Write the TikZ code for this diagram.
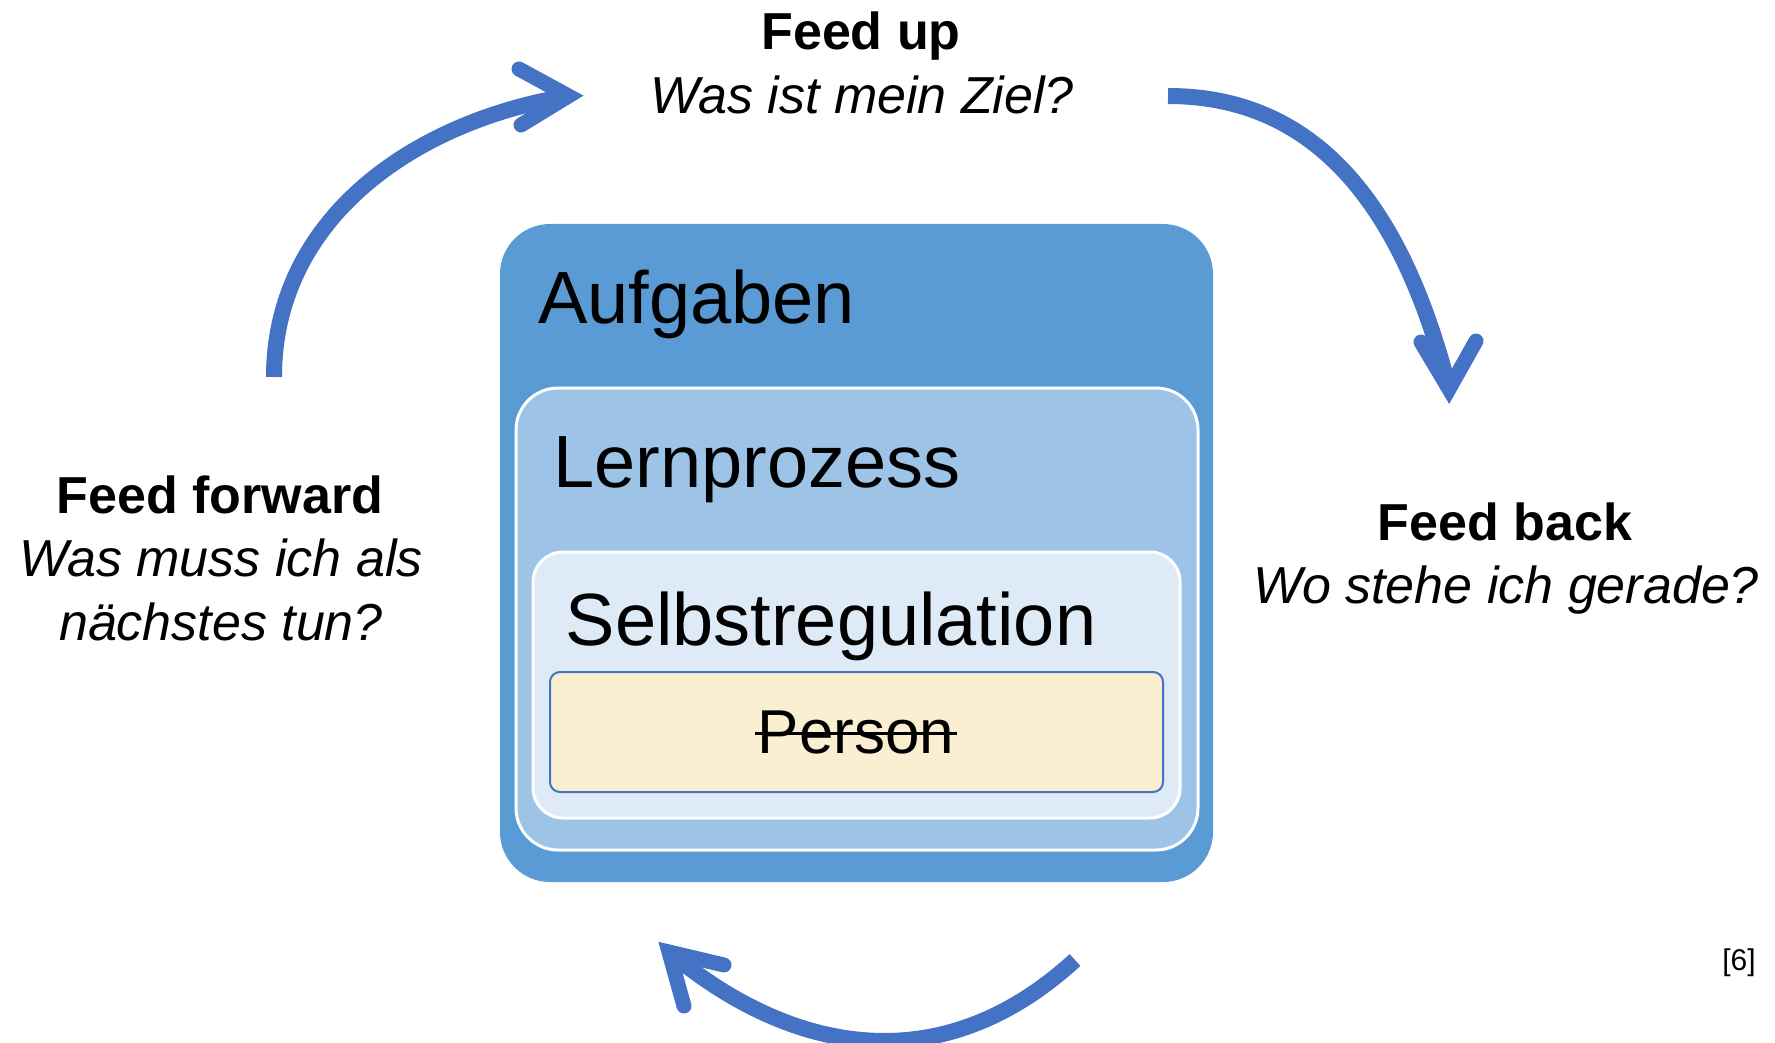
\documentclass[tikz,border=0pt]{standalone}
\usepackage{fontspec}
\setmainfont{Liberation Sans}
\usetikzlibrary{calc}
\definecolor{arrowblue}{HTML}{4472C4}
\definecolor{outerblue}{HTML}{5B9BD5}
\definecolor{midblue}{HTML}{9DC3E6}
\definecolor{lightblue}{HTML}{DEEBF7}
\definecolor{cream}{HTML}{FBEFD2}
\begin{document}
\begin{tikzpicture}[x=1pt,y=-1pt,
  basebox/.style={rectangle, inner sep=0pt, outer sep=0pt},
  outerbox/.style={basebox, fill=outerblue, rounded corners=50pt},
  lernbox/.style={basebox, fill=midblue, draw=white, line width=3pt, rounded corners=42pt},
  selbstbox/.style={basebox, fill=lightblue, draw=white, line width=3pt, rounded corners=30pt},
  personbox/.style={basebox, fill=cream, draw=arrowblue, line width=2pt, rounded corners=10pt},
  boxtitle/.style={inner sep=0pt, anchor=base west, font=\fontsize{74}{88}\selectfont},
  headtxt/.style={inner sep=0pt, anchor=base, font=\fontsize{52}{62}\selectfont\bfseries},
  subtxt/.style={inner sep=0pt, anchor=base, font=\fontsize{52}{62}\selectfont\itshape},
  shaft/.style={draw=arrowblue, line width=16pt},
  chevron/.style={draw=arrowblue, line width=15pt, line cap=round, line join=miter},
]
\useasboundingbox (0,0) rectangle (1775,1043);

% nested boxes
\node[outerbox, minimum width=713pt, minimum height=658pt] (aufgaben) at (856.5,553) {};
\node[lernbox, minimum width=682pt, minimum height=462pt] (lern) at (857,619) {};
\node[selbstbox, minimum width=647pt, minimum height=266pt] (selbst) at (856.5,685) {};
\node[personbox, minimum width=613pt, minimum height=120pt] (person) at (856.5,732) {};

\node[boxtitle] (taufg) at (538,323) {Aufgaben};
\node[boxtitle] (tlern) at (553,487) {Lernprozess};
\node[boxtitle] (tselbst) at (565.5,645) {Selbstregulation};
\node[inner sep=0pt, anchor=base, font=\fontsize{62}{74}\selectfont] (tperson) at (856,753) {Person};
\draw[line width=3.5pt] ($(tperson.base west)+(-3,-19.5)$) -- ($(tperson.base east)+(3,-19.5)$);

% labels
\node[headtxt] (fu1) at (861,50) {Feed up};
\node[subtxt] (fu2) at (862,114) {Was ist mein Ziel?};
\node[headtxt] (ff1) at (220,513) {Feed forward};
\node[subtxt] (ff2) at (221,576) {Was muss ich als};
\node[subtxt] (ff3) at (221,640) {nächstes tun?};
\node[headtxt] (fb1) at (1505,540) {Feed back};
\node[subtxt] (fb2) at (1506,603) {Wo stehe ich gerade?};
\node[inner sep=0pt, anchor=base, font=\fontsize{30}{36}\selectfont] (ref) at (1739,970) {[6]};

% arrow 1 (feed forward -> feed up)
\coordinate (a1s) at (274,377);
\coordinate (a1v) at (568.5,96);
\coordinate (a1l) at (519,69);
\coordinate (a1r) at (521,125);
\draw[shaft] (a1s) .. controls (274,222) and (408.7,122.7) .. (a1v);
\draw[chevron] (a1l) -- (a1v) -- (a1r);

% arrow 2 (feed up -> feed back)
\coordinate (a2s) at (1168,96);
\coordinate (a2v) at (1449,389);
\coordinate (a2l) at (1421,342);
\coordinate (a2r) at (1476,341);
\draw[shaft] (a2s) .. controls (1330,96) and (1408,228) .. (a2v);
\draw[chevron] (a2l) -- (a2v) -- (a2r);

% arrow 3 (bottom)
\coordinate (a3s) at (1075,960);
\coordinate (a3v) at (669,952);
\coordinate (a3l) at (724,965);
\coordinate (a3r) at (684,1006);
\draw[shaft] (a3s) .. controls (947.5,1077) and (800,1061) .. (a3v);
\draw[chevron] (a3l) -- (a3v) -- (a3r);
\end{tikzpicture}
\end{document}
